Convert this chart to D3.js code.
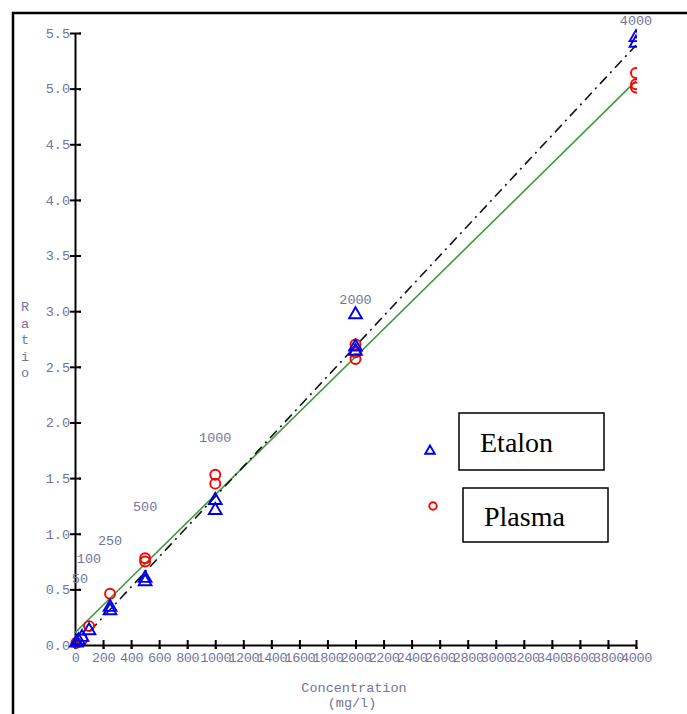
<!DOCTYPE html>
<html>
<head>
<meta charset="utf-8">
<script src="https://cdn.jsdelivr.net/npm/d3@7"></script>
<style>
  body { margin: 0; background: #fff; }
  .axis text { font-family: "Liberation Mono", monospace; font-size: 13.5px; fill: #74749a; }
  .axis path, .axis line { stroke: #000; stroke-width: 2; }
  .lbl { font-family: "Liberation Mono", monospace; font-size: 13.5px; fill: #74749a; }
  .legend text { font-family: "Liberation Serif", serif; font-size: 28px; fill: #000; }
</style>
</head>
<body>
<script>
// Etalon (blue triangles) : [concentration, ratio]
const etalon = [
  [10, 0.02], [25, 0.04], [50, 0.07], [100, 0.13],
  [250, 0.31], [250, 0.34], [500, 0.57], [500, 0.60],
  [1000, 1.21], [1000, 1.30], [2000, 2.64], [2000, 2.68], [2000, 2.97],
  [4000, 5.41], [4000, 5.46]
];

// Plasma (red circles)
const plasma = [
  [10, 0.02], [50, 0.05], [100, 0.17], [250, 0.46],
  [500, 0.75], [500, 0.78], [1000, 1.45], [1000, 1.53],
  [2000, 2.57], [2000, 2.63], [2000, 2.70],
  [4000, 5.01], [4000, 5.04], [4000, 5.14]
];

// fitted lines
const etalonFit = [[0, -0.02], [4000, 5.39]];
const plasmaFit = [[0, 0.11], [4000, 5.07]];

// concentration annotations: [text, concentration, ratio]
const concLabels = [
  ['50', 35, 0.59], ['100', 100, 0.77], ['250', 250, 0.93],
  ['500', 500, 1.24], ['1000', 1000, 1.86], ['2000', 2000, 3.10],
  ['4000', 4000, 5.60]
];

const xTicks = d3.range(0, 4001, 200);
const yTicks = d3.range(0, 5.51, 0.5);

const W = 687, H = 714;
const margin = { top: 33, left: 75 };
const plotW = 561, plotH = 612;

const svg = d3.select('body').append('svg')
  .attr('width', W)
  .attr('height', H);

// outer frame
svg.append('path')
  .attr('d', `M13,${H} L13,13 L${W},13`)
  .attr('fill', 'none')
  .attr('stroke', '#000')
  .attr('stroke-width', 2.5);

const x = d3.scaleLinear().domain([0, 4000]).range([0, plotW]);
const y = d3.scaleLinear().domain([0, 5.5]).range([plotH, 0]);

const g = svg.append('g')
  .attr('transform', `translate(${margin.left}, ${margin.top})`);

svg.append('clipPath').attr('id', 'clip')
  .append('rect')
  .attr('x', -20).attr('y', -30)
  .attr('width', plotW + 21).attr('height', plotH + 40);

// axes
const yAxis = g.append('g')
  .attr('class', 'y axis')
  .call(d3.axisLeft(y).tickValues(yTicks).tickFormat(d3.format('.1f')).tickSize(5).tickSizeOuter(0));
yAxis.selectAll('.tick line').attr('x1', 6);
yAxis.selectAll('.tick').append('line')
  .attr('x1', 4).attr('x2', 6).attr('stroke', '#e00').attr('stroke-width', 2);
yAxis.selectAll('.tick text').attr('x', -5);

const xAxis = g.append('g')
  .attr('class', 'x axis')
  .attr('transform', `translate(0, ${plotH})`)
  .call(d3.axisBottom(x).tickValues(xTicks).tickFormat(d3.format('d')).tickSize(4).tickSizeOuter(0));
xAxis.selectAll('.tick line').attr('y1', -5);
xAxis.selectAll('.tick').append('line')
  .attr('y1', 2).attr('y2', 4).attr('stroke', '#e00').attr('stroke-width', 2);
xAxis.selectAll('.tick text').attr('y', 7).attr('letter-spacing', -0.4);

// axis titles
const ratioLetters = 'Ratio'.split('');
svg.append('g').selectAll('text')
  .data(ratioLetters)
  .enter()
  .append('text')
  .attr('class', 'lbl')
  .attr('text-anchor', 'middle')
  .attr('x', 25)
  .attr('y', (d, i) => 311 + i * 16.5)
  .text(d => d);

svg.append('text').attr('class', 'lbl')
  .attr('text-anchor', 'middle')
  .attr('x', 354).attr('y', 692)
  .text('Concentration');
svg.append('text').attr('class', 'lbl')
  .attr('text-anchor', 'middle')
  .attr('x', 352).attr('y', 707)
  .text('(mg/l)');

// fitted lines
const line = d3.line().x(d => x(d[0])).y(d => y(d[1]));

g.append('path')
  .datum(plasmaFit)
  .attr('d', line)
  .attr('fill', 'none')
  .attr('stroke', '#3f9a3f')
  .attr('stroke-width', 1.6);

g.append('path')
  .datum(etalonFit)
  .attr('d', line)
  .attr('fill', 'none')
  .attr('stroke', '#111')
  .attr('stroke-width', 1.6)
  .attr('stroke-dasharray', '10,5,2,5');

// marks
const pts = g.append('g').attr('clip-path', 'url(#clip)');
const tri = d3.symbol().type(d3.symbolTriangle).size(70);

pts.selectAll('circle')
  .data(plasma)
  .enter()
  .append('circle')
  .attr('cx', d => x(d[0]))
  .attr('cy', d => y(d[1]))
  .attr('r', 5)
  .attr('fill', 'none')
  .attr('stroke', '#f00')
  .attr('stroke-width', 1.9);

pts.selectAll('path.tri')
  .data(etalon)
  .enter()
  .append('path')
  .attr('class', 'tri')
  .attr('d', tri)
  .attr('transform', d => `translate(${x(d[0])}, ${y(d[1])})`)
  .attr('fill', 'none')
  .attr('stroke', '#0000e6')
  .attr('stroke-width', 1.9);

// concentration annotations
g.selectAll('text.conc')
  .data(concLabels)
  .enter()
  .append('text')
  .attr('class', 'lbl conc')
  .attr('text-anchor', 'middle')
  .attr('dominant-baseline', 'central')
  .attr('x', d => x(d[1]))
  .attr('y', d => y(d[2]))
  .text(d => d[0]);

// legend
const legend = svg.append('g').attr('class', 'legend');

legend.append('path')
  .attr('d', d3.symbol().type(d3.symbolTriangle).size(40))
  .attr('transform', 'translate(430, 451)')
  .attr('fill', 'none')
  .attr('stroke', '#0000e6')
  .attr('stroke-width', 1.9);

legend.append('circle')
  .attr('cx', 433).attr('cy', 506).attr('r', 3.7)
  .attr('fill', 'none')
  .attr('stroke', '#f00')
  .attr('stroke-width', 1.9);

const boxes = [
  { label: 'Etalon', x: 459, y: 413, w: 145, h: 57, tx: 480, ty: 452 },
  { label: 'Plasma', x: 463, y: 488, w: 145, h: 54, tx: 484, ty: 526 }
];

boxes.forEach(b => {
  legend.append('rect')
    .attr('x', b.x).attr('y', b.y)
    .attr('width', b.w).attr('height', b.h)
    .attr('fill', '#fff')
    .attr('stroke', '#000')
    .attr('stroke-width', 1.5);
  legend.append('text')
    .attr('x', b.tx).attr('y', b.ty)
    .text(b.label);
});
</script>
</body>
</html>
